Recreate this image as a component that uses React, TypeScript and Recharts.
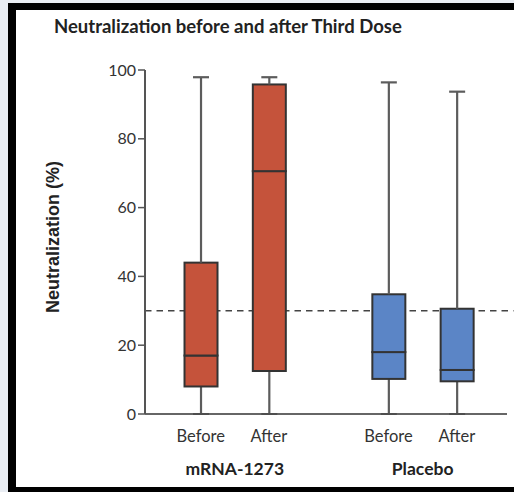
import React from 'react';
import { ComposedChart, Bar, XAxis, YAxis, ReferenceLine, Label } from 'recharts';

// Box-plot summaries, one entry per box:
// mRNA-1273 Before, mRNA-1273 After, Placebo Before, Placebo After
const groups = ['mRNA-1273', 'Placebo'];
const conditions = ['Before', 'After'];
const groupColors = ['#c5533b', '#5b85c6'];
const whiskerLow = [0, 0, 0, 0];
const quartile1 = [8, 12.5, 10.2, 9.5];
const medians = [17, 70.6, 18, 12.8];
const quartile3 = [44, 95.8, 34.8, 30.6];
const whiskerHigh = [97.9, 97.9, 96.4, 93.7];
const yTicks = [0, 20, 40, 60, 80, 100];
const threshold = 30;

// layout of the categorical slots on the numeric x axis
const GROUP_STEP = 2.75;
const X_DOMAIN: [number, number] = [-0.815, 4.485];

const rows = whiskerLow.map((low, i) => {
  const g = Math.floor(i / conditions.length);
  const c = i % conditions.length;
  return {
    pos: g * GROUP_STEP + c,
    condition: conditions[c],
    color: groupColors[g],
    base: low,
    lowWhisker: quartile1[i] - low,
    lowBox: medians[i] - quartile1[i],
    highBox: quartile3[i] - medians[i],
    highWhisker: whiskerHigh[i] - quartile3[i],
  };
});

const groupCenters = groups.map((_, g) => g * GROUP_STEP + (conditions.length - 1) / 2);
const xTicks = [...rows.map((r) => r.pos), ...groupCenters].sort((a, b) => a - b);

const FONT = 'Lato, "Open Sans", sans-serif';
const WHISKER = '#5c5c5c';
const OUTLINE = '#333333';
const CAP = 8;

const Empty = () => null;

const LowerWhisker = (p: any) => {
  const cx = p.x + p.width / 2;
  const bottom = p.y + p.height;
  return (
    <g>
      <line x1={cx} x2={cx} y1={p.y} y2={bottom} stroke={WHISKER} strokeWidth={2.2} />
      <line x1={cx - CAP} x2={cx + CAP} y1={bottom} y2={bottom} stroke="#a0a0a0" strokeWidth={2} />
    </g>
  );
};

const UpperWhisker = (p: any) => {
  const cx = p.x + p.width / 2;
  return (
    <g>
      <line x1={cx} x2={cx} y1={p.y} y2={p.y + p.height} stroke={WHISKER} strokeWidth={2.2} />
      <line x1={cx - CAP} x2={cx + CAP} y1={p.y} y2={p.y} stroke={WHISKER} strokeWidth={2.2} />
    </g>
  );
};

const BoxPart = (p: any) => (
  <rect
    x={p.x}
    y={p.y}
    width={p.width}
    height={p.height}
    fill={p.payload.color}
    stroke={OUTLINE}
    strokeWidth={2}
  />
);

// Condition names sit right under the axis; group names sit below, centred on each pair.
const XTick = (props: any) => {
  const v = props.payload.value;
  const row = rows.find((r) => Math.abs(r.pos - v) < 1e-6);
  if (row) {
    return (
      <text x={props.x} y={414 + 28} textAnchor="middle" fontFamily={FONT} fontSize={16.5} fill="#333">
        {row.condition}
      </text>
    );
  }
  const gi = groupCenters.findIndex((c) => Math.abs(c - v) < 1e-6);
  if (gi < 0) return null;
  return (
    <text x={props.x} y={414 + 61} textAnchor="middle" fontFamily={FONT} fontSize={17.5} fontWeight={700} fill="#222">
      {groups[gi]}
    </text>
  );
};

const YTitle = (props: any) => {
  const vb = props.viewBox || { x: 0, y: 0, width: 0, height: 0 };
  const x = 53;
  const y = vb.y + vb.height / 2 - 5;
  return (
    <text
      x={x}
      y={y}
      transform={`rotate(-90, ${x}, ${y})`}
      textAnchor="middle"
      dominantBaseline="central"
      fontFamily='"Liberation Sans", Arial, sans-serif'
      fontWeight={700}
      fontSize={18}
      fill="#222"
    >
      Neutralization (%)
    </text>
  );
};

export default function App() {
  return (
    <div style={{ position: 'absolute', left: 0, top: 0, width: 514, height: 492, background: '#e9edf3', overflow: 'hidden' }}>
      <div
        style={{
          position: 'absolute',
          left: 8,
          top: 3,
          width: 506,
          height: 489,
          boxSizing: 'border-box',
          background: '#fff',
          borderLeft: '8px solid #000',
          borderTop: '7px solid #000',
          borderBottom: '5px solid #000',
        }}
      />
      <div
        style={{
          position: 'absolute',
          left: 54,
          top: 16,
          fontFamily: FONT,
          fontWeight: 700,
          fontSize: 18.5,
          lineHeight: '20px',
          color: '#222',
          whiteSpace: 'nowrap',
        }}
      >
        Neutralization before and after Third Dose
      </div>
      <div style={{ position: 'absolute', left: 0, top: 0 }}>
        <ComposedChart width={514} height={492} data={rows} margin={{ top: 70, right: 7, bottom: 8, left: 0 }}>
          <XAxis
            dataKey="pos"
            type="number"
            domain={X_DOMAIN}
            allowDataOverflow
            ticks={xTicks}
            height={70}
            tickLine={false}
            axisLine={{ stroke: OUTLINE, strokeWidth: 1.5 }}
            tick={<XTick />}
            interval={0}
          />
          <YAxis
            type="number"
            domain={[0, 100]}
            ticks={yTicks}
            width={145}
            tickSize={7}
            tickMargin={2}
            axisLine={{ stroke: '#555', strokeWidth: 2 }}
            tickLine={{ stroke: '#555', strokeWidth: 1.5 }}
            tick={{ fontFamily: FONT, fontSize: 16, fill: '#333' }}
          >
            <Label content={<YTitle />} />
          </YAxis>
          <ReferenceLine
            segment={[
              { x: X_DOMAIN[0], y: threshold },
              { x: 4.58, y: threshold },
            ]}
            ifOverflow="visible"
            stroke="#444"
            strokeWidth={1.5}
            strokeDasharray="6.5 5"
            zIndex={100}
          />
          <Bar dataKey="base" stackId="box" barSize={33} shape={<Empty />} isAnimationActive={false} />
          <Bar dataKey="lowWhisker" stackId="box" barSize={33} shape={<LowerWhisker />} isAnimationActive={false} />
          <Bar dataKey="lowBox" stackId="box" barSize={33} shape={<BoxPart />} isAnimationActive={false} />
          <Bar dataKey="highBox" stackId="box" barSize={33} shape={<BoxPart />} isAnimationActive={false} />
          <Bar dataKey="highWhisker" stackId="box" barSize={33} shape={<UpperWhisker />} isAnimationActive={false} />
        </ComposedChart>
      </div>
    </div>
  );
}
